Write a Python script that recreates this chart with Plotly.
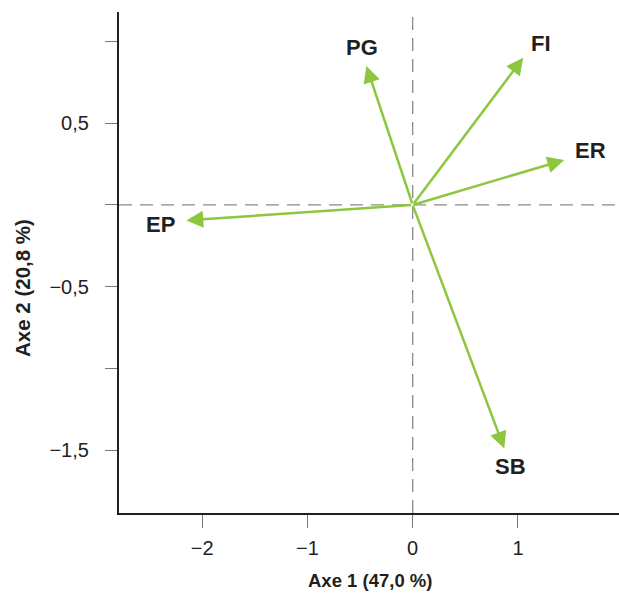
import plotly.graph_objects as go

variables = ["PG", "FI", "ER", "EP", "SB"]
axis1 = [-0.44, 1.05, 1.44, -2.15, 0.87]
axis2 = [0.85, 0.90, 0.275, -0.095, -1.49]
label_x = [-0.48, 1.22, 1.69, -2.40, 0.93]
label_y = [0.96, 0.99, 0.33, -0.12, -1.60]

x_ticks = [-2, -1, 0, 1]
x_ticktext = ["−2", "−1", "0", "1"]
y_ticks = [1, 0.5, 0, -0.5, -1, -1.5]
y_ticktext = ["", "0,5", "", "−0,5", "", "−1,5"]

x_title = "Axe 1 (47,0 %)"
y_title = "Axe 2 (20,8 %)"

GREEN = "#8dc63f"
DARK = "#231f20"
FONT = "Liberation Sans, Arial, sans-serif"

x_range = [-2.79, 1.96]
y_range = [-1.885, 1.18]

W, H = 619, 593
ML, MR, MT, MB = 119, 0, 12, 80
plot_w = W - ML - MR
plot_h = H - MT - MB
axis_bottom = H - MB

fig = go.Figure()
fig.add_trace(go.Scatter(x=[0], y=[0], mode="markers", marker=dict(size=0.1, opacity=0),
                         hoverinfo="skip", showlegend=False))

# dashed reference lines
fig.add_shape(type="line", xref="x", yref="y", x0=x_range[0], x1=x_range[1], y0=0, y1=0,
              line=dict(color="#8a8a8a", width=1.3, dash="13px,8px"))
fig.add_shape(type="line", xref="x", yref="y", x0=0, x1=0, y0=y_range[0], y1=y_range[1],
              line=dict(color="#8a8a8a", width=1.3, dash="13px,8px"))

for v, x, y, lx, ly in zip(variables, axis1, axis2, label_x, label_y):
    fig.add_annotation(x=x, y=y, ax=0, ay=0, xref="x", yref="y", axref="x", ayref="y",
                       showarrow=True, arrowhead=2, arrowsize=1.35, arrowwidth=2.5,
                       arrowcolor=GREEN, standoff=0, text="")
    fig.add_annotation(x=lx, y=ly, xref="x", yref="y", text="<b>%s</b>" % v, showarrow=False,
                       font=dict(family=FONT, size=22, color=DARK))

# axis titles
fig.add_annotation(x=(370 - ML) / plot_w, y=-(580 - axis_bottom) / plot_h,
                   xref="paper", yref="paper",
                   text="<b>%s</b>" % x_title, showarrow=False, xanchor="center", yanchor="middle",
                   font=dict(family=FONT, size=18.5, color=DARK))
fig.add_annotation(x=-(ML - 22) / plot_w, y=(axis_bottom - 288) / plot_h,
                   xref="paper", yref="paper",
                   text="<b>%s</b>" % y_title, textangle=-90, showarrow=False,
                   xanchor="center", yanchor="middle",
                   font=dict(family=FONT, size=20.5, color=DARK))

fig.update_layout(
    width=W, height=H,
    margin=dict(l=ML, r=MR, t=MT, b=MB, autoexpand=False),
    plot_bgcolor="white", paper_bgcolor="white",
    showlegend=False,
    font=dict(family=FONT, size=20, color=DARK),
    xaxis=dict(range=x_range, tickvals=x_ticks, ticktext=x_ticktext, showgrid=False,
               zeroline=False, showline=True, linewidth=2.2, linecolor=DARK, automargin=False,
               ticks="outside", ticklen=13, tickwidth=1.3, tickcolor="#777",
               ticklabelstandoff=3, tickfont=dict(size=20, color=DARK)),
    yaxis=dict(range=y_range, tickvals=y_ticks, ticktext=y_ticktext, showgrid=False,
               zeroline=False, showline=True, linewidth=2.2, linecolor=DARK, automargin=False,
               ticks="outside", ticklen=12, tickwidth=1.3, tickcolor="#777",
               ticklabelstandoff=12, tickfont=dict(size=20, color=DARK)),
)

fig.write_html("out.html", config={"displayModeBar": False},
               post_script="document.body.style.margin='0';document.body.style.overflow='hidden';")
